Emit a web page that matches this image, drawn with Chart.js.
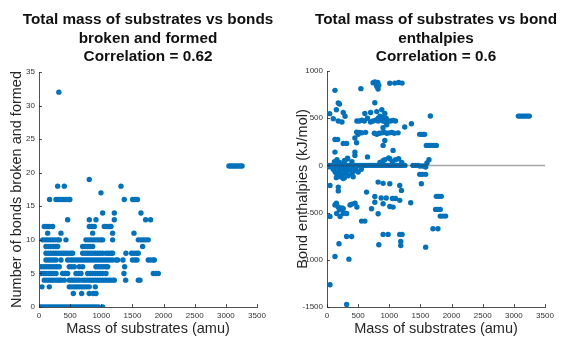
<!DOCTYPE html>
<html>
<head>
<meta charset="utf-8">
<script src="https://cdn.jsdelivr.net/npm/chart.js@4/dist/chart.umd.min.js"></script>
<style>
  html, body { margin: 0; padding: 0; background: #fff; }
  body { width: 566px; height: 338px; overflow: hidden; position: relative; }
  .box { position: absolute; top: 0; width: 283px; height: 338px; }
  canvas { display: block; }
</style>
</head>
<body>
<div class="box" style="left:0"><canvas id="c1" width="283" height="338"></canvas></div>
<div class="box" style="left:283px"><canvas id="c2" width="283" height="338"></canvas></div>
<script>
// ---------- data ----------
const titleA = ['Total mass of substrates vs bonds', 'broken and formed', 'Correlation = 0.62'];
const titleB = ['Total mass of substrates vs bond', 'enthalpies', 'Correlation = 0.6'];
const xLabel = 'Mass of substrates (amu)';
const yLabelA = 'Number of bonds broken and formed';
const yLabelB = 'Bond enthalpies (kJ/mol)';

const xTicks = [0, 500, 1000, 1500, 2000, 2500, 3000, 3500];
const yTicksA = [0, 5, 10, 15, 20, 25, 30, 35];
const yTicksB = [-1500, -1000, -500, 0, 500, 1000];

// left chart: bond count levels and the substrate masses observed at each level
const bondCounts = [0, 2, 3, 4, 5, 6, 7, 8, 9, 10, 11, 12, 13, 14, 16, 17, 18, 19, 21, 32];
const massByBondCount = [
  [10,45,80,115,150,185,220,255,290,325,360,395,430,465,500,535,570,605,640,675,710,745,780,815,850,885,920,955,1022],
  [551,685,807,870,915],
  [48,165,486,526,566,606,646,686,726,766,807,904],
  [85,125,165,205,245,285,325,353,406,486,526,566,606,647,701,741,781,821,861,901,941,981,1021,1061,1101,1141,1181,1209,1391,1594,1620],
  [32,72,112,152,192,232,273,380,420,460,594,634,674,781,821,861,901,941,981,1021,1075,1364,1835,1875,1915],
  [5,45,85,125,165,205,245,285,326,486,526,567,647,701,915,955,995,1035,1075,1103,1375],
  [112,152,192,232,273,353,460,500,540,580,620,660,700,740,780,820,860,900,940,980,1020,1060,1100,1140,1180,1236,1263,1348,1500,1540,1573,1754,1794,1834,1851],
  [112,152,192,232,272,312,352,392,432,472,512,540,701,741,781,821,861,901,941,981,1022,1075,1115,1155,1182,1396,1487,1527,1567,1594],
  [112,152,192,232,272,300,701,741,781,821,862,1664],
  [59,99,139,179,219,259,299,326,433,754,794,834,874,914,954,994,1022,1182,1594,1634,1674,1714,1754],
  [139,353,862,1182,1525],
  [85,125,165,219,808,848,888,1048,1088,1128,1156],
  [460,808,915,1209,1712,1792],
  [1022,1209,1637],
  [170,273,313,353,393,433,473,495,1369,1504,1541,1580],
  [995],
  [300,406,1316],
  [807],
  [3050,3080,3110,3140,3170,3200,3230,3260],
  [319]
];

// right chart: [mass (amu), bond enthalpy (kJ/mol)]
const massEnthalpy = [
  // top
  [740,875],[770,885],[790,860],[815,880],[800,835],[830,850],[820,810],
  [1008,870],[1088,872],[1150,878],[1205,872],[544,813],[128,795],[181,661],[768,664],
  [43,548],[150,590],[200,650],[261,560],[101,495],[180,470],[240,459],[290,520],
  // ~470 band
  [480,470],[520,470],[560,480],[600,470],[650,500],[700,460],[740,470],[780,480],[820,470],
  [860,480],[900,470],[940,460],[980,470],[1020,470],[1060,475],[1100,470],
  [608,550],[700,560],[800,570],[880,590],[928,550],[850,520],[900,510],[950,500],[820,500],
  [1248,406],[1355,441],[1659,523],
  // ~340 band
  [475,353],[520,350],[560,345],[620,350],[760,340],[800,330],[840,340],[880,345],[920,350],
  [960,340],[1000,345],[1040,350],[1080,340],[1141,345],[900,400],[960,430],[500,330],
  [1488,329],[1515,329],[1545,329],[1568,329],
  [128,275],[171,275],[261,233],[315,233],[448,290],[475,240],[928,265],[901,212],
  [128,141],[448,141],[448,106],[1061,159],[1008,70],[928,60],[288,53],[330,75],
  [1595,212],[1635,212],[1675,212],[1715,212],[1755,212],
  [1637,60],[1605,25],[1584,-18],
  [1488,-6],[1528,-6],[1568,-6],[1488,-95],[1530,-95],[1584,-95],[1515,-194],
  [1380,0],[1420,0],[1460,0],
  [1755,-328],[1795,-328],[1835,-328],[1744,-466],[1781,-466],[1818,-466],
  [1818,-537],[1860,-537],[1904,-537],[1701,-671],[1781,-671],[1584,-866],
  [3072,522],[3100,522],[3130,522],[3160,522],[3190,522],[3220,522],[3248,522],
  // zero band
  [0,0],[35,0],[70,0],[105,0],[140,0],[175,0],[210,0],[245,0],[280,0],[315,0],[350,0],[385,0],
  [420,0],[455,0],[490,0],[525,0],[560,0],[595,0],[630,0],[665,0],[700,0],[735,0],[770,0],
  [805,0],[840,0],[875,0],[910,0],[945,0],[980,0],[1015,0],[1050,0],[1085,0],[1120,0],
  [1155,0],[1190,0],[1225,0],[1250,0],
  [20,-15],[55,-15],[90,-15],[125,-15],[160,-15],[195,-15],[230,-15],[265,-15],[300,-15],
  [335,-15],[370,-15],[405,-15],[440,-15],
  [100,-40],[130,-70],[160,-100],[190,-60],[220,-120],[250,-90],[280,-130],[310,-80],
  [340,-110],[370,-50],[400,-90],[430,-60],[460,-40],[200,-30],[300,-40],[150,-130],
  [260,-140],[500,-70],[550,-40],[420,-120],[180,-85],[240,-55],
  [120,40],[160,60],[200,30],[240,20],[280,50],[330,70],[400,40],[650,90],[850,30],
  [900,50],[1050,40],[1100,60],[1200,30],[1150,70],[990,80],
  // negative
  [48,-212],[181,-230],[181,-270],[635,-283],[821,-177],[901,-190],[1008,-194],
  [1168,-212],[1195,-265],[768,-330],[870,-345],[950,-345],[1050,-350],[1099,-350],
  [768,-390],[901,-406],[1008,-435],[1168,-370],[1344,-395],[715,-460],[821,-512],[1061,-442],
  [128,-420],[150,-400],[181,-440],[240,-450],[200,-470],[261,-460],[155,-510],[210,-540],
  [261,-510],[315,-510],[370,-420],[400,-410],[450,-400],[480,-440],
  [48,-540],[555,-590],[608,-590],[901,-731],[981,-731],[1168,-731],[1205,-731],
  [315,-753],[395,-753],[832,-841],[1184,-805],[1184,-848],[192,-830],[128,-965],
  [352,-993],[48,-1265],[315,-1474]
];

// ---------- chart helpers ----------
const FONT = '"Liberation Sans", Arial, Helvetica, sans-serif';
const DOT = '#0072BD';
const AXIS = '#262626';

const inwardTicks = {
  id: 'inwardTicks',
  afterDraw(chart) {
    const { ctx, chartArea: a, scales: { x, y } } = chart;
    ctx.save();
    ctx.strokeStyle = AXIS;
    ctx.lineWidth = 0.8;
    x.ticks.forEach(t => {
      const px = Math.round(x.getPixelForValue(t.value)) + 0.5;
      ctx.beginPath(); ctx.moveTo(px, a.bottom); ctx.lineTo(px, a.bottom - 3); ctx.stroke();
    });
    y.ticks.forEach(t => {
      const py = Math.round(y.getPixelForValue(t.value)) + 0.5;
      ctx.beginPath(); ctx.moveTo(a.left, py); ctx.lineTo(a.left + 3, py); ctx.stroke();
    });
    ctx.restore();
  }
};

// multi-line title centred over the plot area (allowed to be wider than it)
const centredTitle = {
  id: 'centredTitle',
  afterDraw(chart, args, opts) {
    const { ctx, chartArea: a } = chart;
    ctx.save();
    ctx.font = 'bold 15.3px ' + FONT;
    ctx.fillStyle = '#111';
    ctx.textAlign = 'center';
    ctx.textBaseline = 'alphabetic';
    const cx = (a.left + a.right) / 2;
    opts.lines.forEach((line, i) => ctx.fillText(line, cx, 24 + i * 18.6));
    ctx.restore();
  }
};

const plainNumber = v => String(v);

function makeOptions(title, yLabel, yTicks, yMin, yMax, yWidth, padRight, padTop, yTitlePad) {
  return {
    responsive: false,
    animation: false,
    devicePixelRatio: 1,
    layout: { padding: { left: 0, right: padRight, top: padTop, bottom: 0 } },
    plugins: {
      legend: { display: false },
      tooltip: { enabled: false },
      title: { display: false },
      centredTitle: { lines: title }
    },
    scales: {
      x: {
        type: 'linear', min: 0, max: 3500,
        afterBuildTicks: s => { s.ticks = xTicks.map(v => ({ value: v })); },
        afterFit: s => { s.height = 31; },
        grid: { display: false, drawTicks: false },
        border: { display: true, color: AXIS, width: 0.8 },
        ticks: { font: { family: FONT, size: 8 }, color: '#333', padding: 4, maxRotation: 0, autoSkip: false, callback: plainNumber },
        title: { display: true, text: xLabel, color: AXIS, font: { family: FONT, size: 14.5 }, padding: { top: 0, bottom: 0 } }
      },
      y: {
        type: 'linear', min: yMin, max: yMax,
        afterBuildTicks: s => { s.ticks = yTicks.map(v => ({ value: v })); },
        afterFit: s => { s.width = yWidth; },
        grid: { display: false, drawTicks: false },
        border: { display: true, color: AXIS, width: 0.8 },
        ticks: { font: { family: FONT, size: 8 }, color: '#333', padding: 4, autoSkip: false, callback: plainNumber },
        title: { display: true, text: yLabel, color: AXIS, font: { family: FONT, size: 14.5 }, padding: { top: yTitlePad, bottom: 0 } }
      }
    }
  };
}

// ---------- left chart ----------
const pointsA = [];
bondCounts.forEach((b, i) => massByBondCount[i].forEach(m => pointsA.push({ x: m, y: b })));

new Chart(document.getElementById('c1'), {
  type: 'scatter',
  data: { datasets: [{ data: pointsA, backgroundColor: DOT, borderWidth: 0, pointRadius: 2.7 }] },
  options: makeOptions(titleA, yLabelA, yTicksA, 0, 35, 39, 26, 72, 8),
  plugins: [inwardTicks, centredTitle]
});

// ---------- right chart ----------
const pointsB = massEnthalpy.map(p => ({ x: p[0], y: p[1] }));
const zeroLine = [{ x: 0, y: 0 }, { x: 3500, y: 0 }];

new Chart(document.getElementById('c2'), {
  type: 'scatter',
  data: {
    datasets: [
      { data: zeroLine, showLine: true, borderColor: 'rgba(60,60,60,0.45)', borderWidth: 1.5, pointRadius: 0 },
      { data: pointsB, backgroundColor: DOT, borderWidth: 0, pointRadius: 2.7 }
    ]
  },
  options: makeOptions(titleB, yLabelB, yTicksB, -1500, 1000, 44, 21, 71, 11),
  plugins: [inwardTicks, centredTitle]
});
</script>
</body>
</html>
